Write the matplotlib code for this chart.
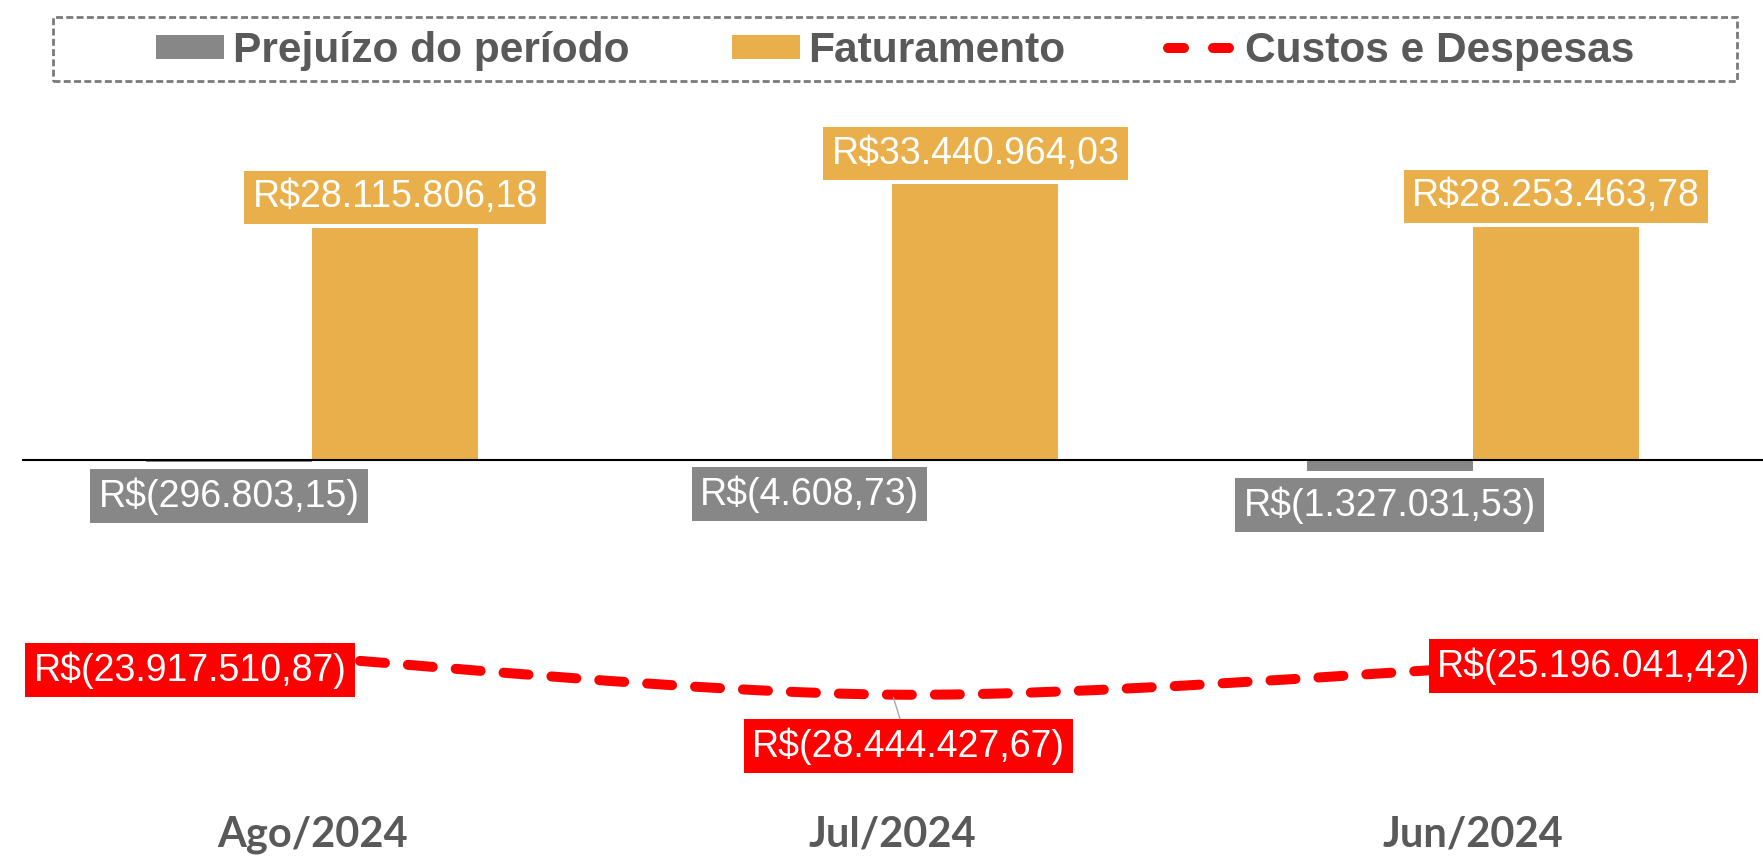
import numpy as np
import matplotlib
matplotlib.use('Agg')
import matplotlib.pyplot as plt
from matplotlib.patches import Patch, Rectangle, PathPatch
from matplotlib.lines import Line2D
from matplotlib.path import Path

## data (R$ milhões)
meses = ['Ago/2024', 'Jul/2024', 'Jun/2024']
prejuizo = [-0.29680315, -0.00460873, -1.32703153]
faturamento = [28.11580618, 33.44096403, 28.25346378]
custos = [-23.91751087, -28.44442767, -25.19604142]

lbl_prejuizo = ['R$(296.803,15)', 'R$(4.608,73)', 'R$(1.327.031,53)']
lbl_faturamento = ['R$28.115.806,18', 'R$33.440.964,03', 'R$28.253.463,78']
lbl_custos = ['R$(23.917.510,87)', 'R$(28.444.427,67)', 'R$(25.196.041,42)']

## colors
c_grey = '#878787'
c_gold = '#E9AF4A'
c_red = '#FF0000'
c_text = '#595959'

W, H = 1763, 859
fig = plt.figure(figsize=(W / 100, H / 100), dpi=100)
ax = fig.add_axes([22 / W, (H - 800) / H, (W - 22) / W, 700 / H])

x = np.arange(len(meses))
w = 0.286
ax.bar(x - w / 2, prejuizo, w, color=c_grey, zorder=2)
ax.bar(x + w / 2, faturamento, w, color=c_gold, zorder=2)
ax.axhline(0, color='black', lw=1.5, zorder=3)

# smoothed line (catmull-rom -> bezier, through the data points)
pts = np.column_stack([x, custos]).astype(float)
ext = np.vstack([pts[0], pts, pts[-1]])
verts = [tuple(pts[0])]
codes = [Path.MOVETO]
for i in range(len(pts) - 1):
    p0, p1, p2, p3 = ext[i], ext[i + 1], ext[i + 2], ext[i + 3]
    c1 = p1 + (p2 - p0) / 6
    c2 = p2 - (p3 - p1) / 6
    verts += [tuple(c1), tuple(c2), tuple(p2)]
    codes += [Path.CURVE4] * 3
dash = (0, (2.5, 2.3))
patch = PathPatch(Path(verts, codes), fill=False, ec=c_red, lw=7.2,
                  ls=dash, capstyle='round', zorder=4)
ax.add_patch(patch)

ax.set_xlim(-0.5, 2.5)
ax.set_ylim(-(800 - 460) / 8.25, (460 - 100) / 8.25)
for s in ax.spines.values():
    s.set_visible(False)
ax.set_yticks([])
ax.set_xticks(x)
ax.set_xticklabels(meses, family='Lato', weight='bold', size=30, color=c_text)
ax.tick_params(axis='x', length=0, pad=11)

lab_font = dict(family='Liberation Sans', size=27, color='white', ha='center', va='center')

for i in range(len(meses)):
    ax.annotate(lbl_faturamento[i], (x[i] + w / 2, faturamento[i]), xytext=(0, 22),
                textcoords='offset points', zorder=6,
                bbox=dict(boxstyle='square,pad=0.22', fc=c_gold, ec='none'), **lab_font)
    ax.annotate(lbl_prejuizo[i], (x[i] - w / 2, prejuizo[i]), xytext=(0, -24.5),
                textcoords='offset points', zorder=6,
                bbox=dict(boxstyle='square,pad=0.22', fc=c_grey, ec='none'), **lab_font)

custos_off = [(-88, -9), (11.5, -37), (87, 1.5)]
for i in range(len(meses)):
    arrow = None
    if i == 1:
        arrow = dict(arrowstyle='-', color='#A6A6A6', lw=1, shrinkA=0, shrinkB=2)
    ax.annotate(lbl_custos[i], (x[i], custos[i]), xytext=custos_off[i],
                textcoords='offset points', zorder=6, arrowprops=arrow,
                bbox=dict(boxstyle='square,pad=0.22', fc=c_red, ec='none'), **lab_font)

## legend
handles = [Patch(fc=c_grey, ec='none'), Patch(fc=c_gold, ec='none'),
           Line2D([], [], color=c_red, lw=7.2, ls=(0, (1.6, 2.9)), dash_capstyle='round')]
labels = ['Prejuízo do período', 'Faturamento', 'Custos e Despesas']
fig.legend(handles, labels, loc='center', bbox_to_anchor=(895 / W, 1 - 51 / H),
           ncol=3, frameon=False, labelcolor=c_text,
           prop=dict(family='Liberation Sans', weight='bold', size=30.6),
           handlelength=1.6, handleheight=0.5, handletextpad=0.21, columnspacing=2.4)
fig.add_artist(Rectangle((53 / W, 1 - 81 / H), (1737 - 53) / W, 64 / H,
                         transform=fig.transFigure, fill=False, ec='#7a7a7a',
                         lw=2, ls=(0, (2.5, 1.2))))

fig.savefig('out.png', dpi=100)
